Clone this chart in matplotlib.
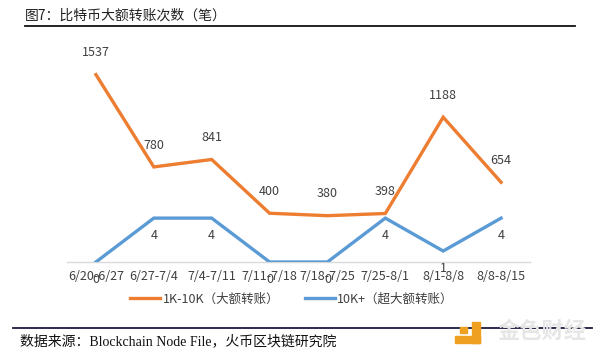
import matplotlib
matplotlib.use("Agg")
import matplotlib.pyplot as plt
from matplotlib.lines import Line2D

plt.rcParams['font.family'] = ['Noto Sans CJK SC', 'DejaVu Sans']

categories = ["6/20-6/27", "6/27-7/4", "7/4-7/11", "7/11-7/18", "7/18-7/25",
              "7/25-8/1", "8/1-8/8", "8/8-8/15"]
large = [1537, 780, 841, 400, 380, 398, 1188, 654]
huge = [0, 4, 4, 0, 0, 4, 1, 4]
series_names = ["1K-10K（大额转账）", "10K+（超大额转账）"]
title = "图7：比特币大额转账次数（笔）"
source = "数据来源：Blockchain Node File，火币区块链研究院"

W, H = 600, 363
fig = plt.figure(figsize=(6, 3.63), dpi=100)

def fx(px):
    return px / W

def fy(py):
    return 1 - py / H

orange = "#ED7D31"
blue = "#5B9BD5"

x = list(range(len(categories)))
ax = fig.add_axes([fx(67), fy(262), fx(530) - fx(67), fy(42.6) - fy(262)])
ax2 = ax.twinx()

ax.plot(x, huge, color=blue, lw=2.4, solid_joinstyle='miter', zorder=3)
ax2.plot(x, large, color=orange, lw=2.4, solid_joinstyle='miter', zorder=3)
ax.set_ylim(0, 20)
ax2.set_ylim(0, 1800)
ax.set_xlim(-0.5, len(categories) - 0.5)

for a in (ax, ax2):
    for s in a.spines.values():
        s.set_visible(False)
    a.set_yticks([])
ax.spines['bottom'].set_visible(True)
ax.spines['bottom'].set_color("#D9D9D9")
ax.spines['bottom'].set_linewidth(1)
ax.set_xticks(x)
ax.set_xticklabels(categories, fontsize=9, color="#404040")
ax.tick_params(axis='x', length=0, pad=6)

for xi, v in zip(x, large):
    ax2.annotate(str(v), (xi, v), xytext=(0, 11), textcoords='offset points',
                 ha='center', va='bottom', fontsize=9, color="#404040")
for xi, v in zip(x, huge):
    ax.annotate(str(v), (xi, v), xytext=(0, -8), textcoords='offset points',
                ha='center', va='top', fontsize=9, color="#404040", zorder=5)

handles = [Line2D([], [], color=orange, lw=2.4), Line2D([], [], color=blue, lw=2.4)]
fig.legend(handles, series_names, loc='center', bbox_to_anchor=(fx(292), fy(299)),
           ncol=2, frameon=False, fontsize=9, handlelength=2.4, handletextpad=0.2,
           columnspacing=2.0, labelcolor="#404040")

# title and rules
fig.text(fx(25), fy(16), title, fontsize=10, color="#222222", ha='left', va='center')
fig.add_artist(Line2D([fx(25), fx(575)], [fy(25.5), fy(25.5)], color="#111111", lw=1.3))
fig.add_artist(Line2D([fx(13), fx(592)], [fy(327.5), fy(327.5)], color="#1a1a40", lw=1.3))
fig.text(fx(20), fy(341), source, fontsize=10, color="#111111", ha='left', va='center',
         family=['Liberation Serif', 'Noto Sans CJK SC'])

# logo-like watermark
fig.patches.append(plt.Rectangle((fx(472), fy(343)), fx(8), fy(322) - fy(343),
                                 transform=fig.transFigure, color="#F0A020", zorder=5))
fig.patches.append(plt.Rectangle((fx(455), fy(343)), fx(25), fy(336) - fy(343),
                                 transform=fig.transFigure, color="#F0A020", zorder=5))
fig.patches.append(plt.Rectangle((fx(460), fy(333)), fx(7), fy(327) - fy(333),
                                 transform=fig.transFigure, color="#F0A020", zorder=5))
fig.text(fx(542), fy(331), "金色财经", fontsize=16, color="#E6E6E6", ha='center', va='center',
         fontweight='bold', zorder=6)

fig.savefig("out.png", dpi=100, facecolor='white')
